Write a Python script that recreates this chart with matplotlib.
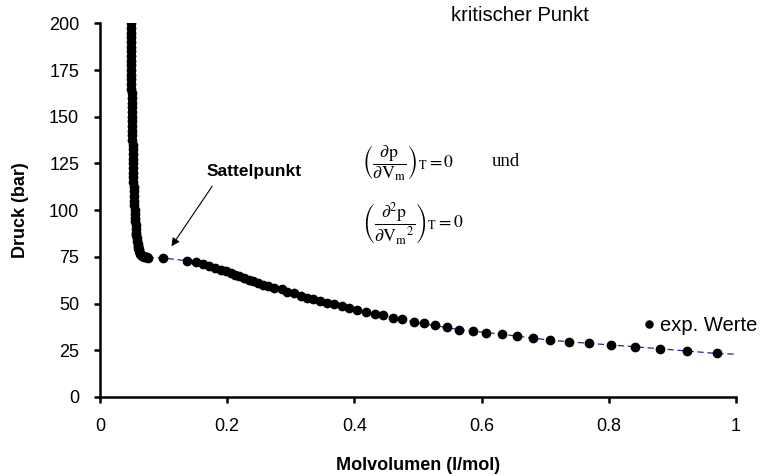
import matplotlib
matplotlib.use("Agg")
import matplotlib.pyplot as plt

plt.rcParams['font.family'] = ['Liberation Sans', 'DejaVu Sans']
plt.rcParams['mathtext.fontset'] = 'stix'

# exp. Werte: Molvolumen (l/mol) und Druck (bar)
v_exp = [0.0480, 0.0481, 0.0482, 0.0483, 0.0484, 0.0485, 0.0486, 0.0487, 0.0488, 0.0489,
         0.0490, 0.0491, 0.0493, 0.0494, 0.0495, 0.0497, 0.0498, 0.0499, 0.0500, 0.0502,
         0.0503, 0.0505, 0.0506, 0.0508, 0.0509, 0.0510, 0.0512, 0.0514, 0.0515, 0.0517,
         0.0519, 0.0521, 0.0523, 0.0525, 0.0527, 0.0530, 0.0532, 0.0535, 0.0537, 0.0541,
         0.0545, 0.0548, 0.0552, 0.0556, 0.0560, 0.0565, 0.0570, 0.0574, 0.0578, 0.0584,
         0.0590, 0.0595, 0.0600, 0.0608, 0.0615, 0.0625, 0.0635, 0.0648, 0.0660, 0.0675,
         0.0690, 0.0705, 0.0720, 0.0735, 0.0750,
         0.0996,
         0.1368, 0.1502, 0.1615, 0.1719, 0.1808, 0.1898, 0.1981, 0.2055, 0.2123, 0.2190,
         0.2264, 0.2338, 0.2410, 0.2489, 0.2568, 0.2646, 0.2735, 0.2857, 0.2945, 0.3050,
         0.3156, 0.3250, 0.3344, 0.3459, 0.3564, 0.3679, 0.3800, 0.3920, 0.4046, 0.4182,
         0.4324, 0.4454, 0.4615, 0.4748, 0.4932, 0.5094, 0.5267, 0.5461, 0.5645, 0.5860,
         0.6074, 0.6316, 0.6552, 0.6803, 0.7080, 0.7379, 0.7693, 0.8035, 0.8407, 0.8805,
         0.9234, 0.9696]
p_exp = [200.0, 197.5, 195.0, 192.5, 190.0, 187.5, 185.0, 182.5, 180.0, 177.5,
         175.0, 172.5, 170.0, 167.5, 165.0, 162.5, 160.0, 157.5, 155.0, 152.5,
         150.0, 147.5, 145.0, 142.5, 140.0, 137.5, 135.0, 132.5, 130.0, 127.5,
         125.0, 122.5, 120.0, 117.5, 115.0, 112.5, 110.0, 107.5, 105.0, 102.5,
         100.0, 98.0, 96.0, 94.0, 92.0, 90.0, 88.0, 86.5, 85.0, 83.5,
         82.0, 81.0, 80.0, 79.0, 78.0, 77.2, 76.5, 76.0, 75.5, 75.2,
         75.0, 74.9, 74.8, 74.7, 74.6,
         74.4,
         72.9, 72.1, 71.0, 69.9, 69.0, 68.2, 67.3, 66.4, 65.5, 64.6,
         63.9, 62.8, 61.9, 61.0, 60.2, 59.3, 58.5, 57.8, 56.2, 55.4,
         54.1, 53.2, 52.2, 51.2, 50.3, 49.6, 48.6, 47.7, 46.4, 45.5,
         44.6, 43.8, 42.3, 41.5, 40.1, 39.4, 38.3, 37.4, 36.1, 35.5,
         34.2, 33.6, 32.7, 31.4, 30.4, 29.4, 28.7, 27.6, 26.9, 25.5,
         24.6, 23.3]

# gestrichelte Verbindungslinie (ab dem Knick bis V = 1)
v_linie = [0.0750, 0.0996, 0.1368, 0.2055, 0.2735, 0.3459, 0.4182, 0.4932, 0.5645,
           0.6316, 0.7080, 0.7693, 0.8407, 0.9234, 0.9696, 1.0]
p_linie = [74.6, 74.4, 72.9, 66.4, 58.5, 51.2, 45.5, 40.1, 36.1,
           33.6, 30.4, 28.7, 26.9, 24.6, 23.3, 22.9]

x_ticks = [0, 0.2, 0.4, 0.6, 0.8, 1]
x_ticklabels = ['0', '0.2', '0.4', '0.6', '0.8', '1']
y_ticks = [0, 25, 50, 75, 100, 125, 150, 175, 200]

fig = plt.figure(figsize=(7.65, 4.76), dpi=100)
ax = fig.add_axes([0.1307, 0.166, 0.8313, 0.785])

ax.plot(v_linie, p_linie, linestyle=(0, (5, 3)), color='#26269a', lw=0.9, zorder=2)
ax.plot(v_exp, p_exp, 'o', color='black', ms=6, zorder=3, label='exp. Werte')

ax.set_xlim(0, 1)
ax.set_ylim(0, 200)
ax.set_xticks(x_ticks)
ax.set_xticklabels(x_ticklabels)
ax.set_yticks(y_ticks)

for s in ['top', 'right']:
    ax.spines[s].set_visible(False)
for s in ['left', 'bottom']:
    ax.spines[s].set_linewidth(1.8)
    ax.spines[s].set_color('black')
ax.tick_params(axis='both', width=1.8, length=4, labelsize=13)
ax.tick_params(axis='x', pad=11)
ax.tick_params(axis='y', pad=11)

ax.set_xlabel('Molvolumen (l/mol)', fontsize=13, fontweight='bold', labelpad=16)
ax.set_ylabel('Druck (bar)', fontsize=13, fontweight='bold', labelpad=14)

ax.legend(loc='center left', bbox_to_anchor=(0.855, 0.1925), frameon=False,
          handlelength=0.5, handletextpad=0.3, borderpad=0, borderaxespad=0,
          fontsize=14.5, markerscale=0.85)

ax.text(0.660, 204, 'kritischer Punkt', ha='center', va='center', fontsize=14.5, clip_on=False)

ax.annotate('', xy=(0.110, 79.4), xytext=(0.179, 114.1),
            arrowprops=dict(arrowstyle='-|>', color='black', lw=0.8, mutation_scale=12))
ax.text(0.168, 120.6, 'Sattelpunkt', ha='left', va='center', fontsize=12.5, fontweight='bold')

ax.text(0.412, 125, r'$\left(\dfrac{\partial \mathrm{p}}{\partial \mathrm{V_m}}\right)_{\mathrm{T}} = 0$',
        ha='left', va='center', fontsize=12.8)
ax.text(0.616, 126, 'und', ha='left', va='center', fontsize=13.5, family='Liberation Serif')
ax.text(0.412, 93, r'$\left(\dfrac{\partial^2 \mathrm{p}}{\partial \mathrm{V_m}^2}\right)_{\mathrm{T}} = 0$',
        ha='left', va='center', fontsize=12.8)

fig.savefig('out.png', dpi=100)
